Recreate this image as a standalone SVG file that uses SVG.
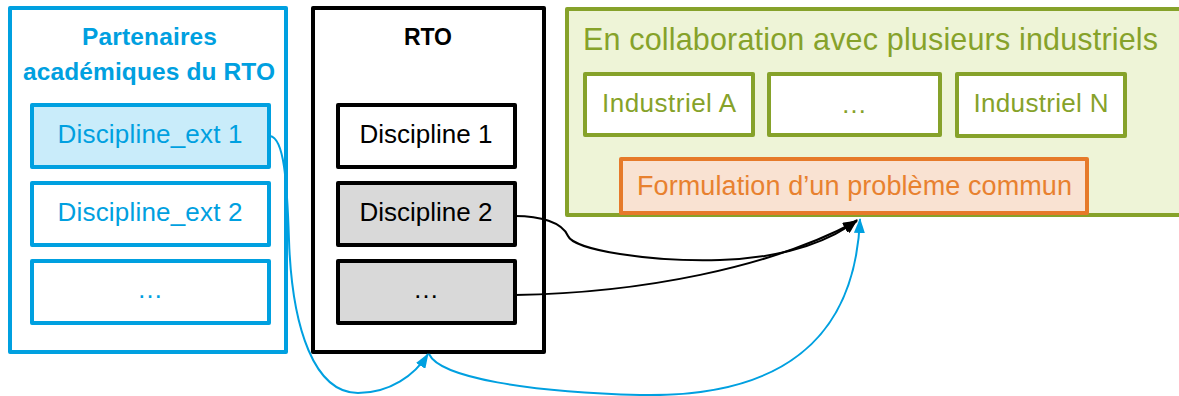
<svg xmlns="http://www.w3.org/2000/svg" width="1179" height="396" viewBox="0 0 1179 396">
<style>
.t{font-family:"Liberation Sans",Arial,sans-serif;text-anchor:middle}
.b{font-weight:bold}
.bl{fill:#00A0E0}
.bk{fill:#000000}
.gr{fill:#86A22A}
.or{fill:#E8812F}
.boxb{fill:#FFFFFF;stroke:#00A0E0;stroke-width:4;stroke-linejoin:round}
.boxk{fill:#FFFFFF;stroke:#000000;stroke-width:4;stroke-linejoin:round}
.boxg{fill:#FFFFFF;stroke:#86A22A;stroke-width:4;stroke-linejoin:round}
.c{fill:none;stroke-width:2}
</style>
<defs>
<marker id="ak" viewBox="0 0 15 11" refX="14" refY="5.5" markerWidth="15" markerHeight="11" markerUnits="userSpaceOnUse" orient="auto">
<path d="M0,0 L15,5.5 L0,11 Z" fill="#000000"/>
</marker>
<marker id="ab" viewBox="0 0 15 11" refX="14" refY="5.5" markerWidth="15" markerHeight="11" markerUnits="userSpaceOnUse" orient="auto">
<path d="M0,0 L15,5.5 L0,11 Z" fill="#00A0E0"/>
</marker>
</defs>

<g id="partenaires">
<rect class="boxb" x="10" y="8" width="276" height="344"/>
<text class="t b bl" x="149.5" y="45" font-size="24.5" textLength="135">Partenaires</text>
<text class="t b bl" x="149" y="80" font-size="24.5" textLength="252">académiques du RTO</text>
</g>
<g id="discipline_ext1">
<rect x="32" y="105" width="237" height="62" fill="#C9ECFA" stroke="#00A0E0" stroke-width="4" stroke-linejoin="round"/>
<text class="t bl" x="150" y="143" font-size="26" textLength="185">Discipline_ext 1</text>
</g>
<g id="discipline_ext2">
<rect class="boxb" x="32" y="183" width="237" height="62"/>
<text class="t bl" x="150" y="221" font-size="26" textLength="185">Discipline_ext 2</text>
</g>
<g id="discipline_ext_more">
<rect class="boxb" x="32" y="261" width="237" height="62"/>
<text class="t bl" x="150" y="298" font-size="26">…</text>
</g>

<g id="rto">
<rect class="boxk" x="313" y="8" width="231" height="344"/>
<text class="t b bk" x="428" y="45" font-size="23" textLength="48">RTO</text>
</g>
<g id="discipline1">
<rect class="boxk" x="338" y="105" width="177" height="62"/>
<text class="t bk" x="426" y="143" font-size="26" textLength="133">Discipline 1</text>
</g>
<g id="discipline2">
<rect x="338" y="183" width="177" height="62" fill="#D9D9D9" stroke="#000000" stroke-width="4" stroke-linejoin="round"/>
<text class="t bk" x="426" y="221" font-size="26" textLength="133">Discipline 2</text>
</g>
<g id="discipline_more">
<rect x="338" y="261" width="177" height="62" fill="#D9D9D9" stroke="#000000" stroke-width="4" stroke-linejoin="round"/>
<text class="t bk" x="426" y="298" font-size="26">…</text>
</g>

<g id="industriels">
<rect x="567" y="9" width="616" height="206" fill="#EEF4D7" stroke="#86A22A" stroke-width="4" stroke-linejoin="round"/>
<text class="gr" x="583" y="50" font-family="Liberation Sans, Arial, sans-serif" font-size="30.5" textLength="575">En collaboration avec plusieurs industriels</text>
</g>
<g id="industrielA">
<rect class="boxg" x="585" y="74" width="168" height="61"/>
<text class="t gr" x="669" y="112" font-size="26" textLength="134">Industriel A</text>
</g>
<g id="industriel_more">
<rect class="boxg" x="769" y="74" width="171" height="61"/>
<text class="t gr" x="854" y="113" font-size="26">…</text>
</g>
<g id="industrielN">
<rect class="boxg" x="957" y="74" width="168" height="62"/>
<text class="t gr" x="1041" y="112" font-size="26" textLength="135">Industriel N</text>
</g>
<g id="formulation">
<rect x="621" y="159" width="466" height="54" fill="#F9E2D2" stroke="#E67A2A" stroke-width="4" stroke-linejoin="round"/>
<text class="t or" x="854.5" y="195" font-size="27" textLength="435">Formulation d’un problème commun</text>
</g>

<g id="connectors">
<path class="c" stroke="#000000" d="M515,216 C540,216 562,222 568,236 C574,250 650,262 720,260 C790,258 835,238 857,220" marker-end="url(#ak)"/>
<path class="c" stroke="#000000" d="M515,295 C640,293 770,268 857,221" marker-end="url(#ak)"/>
<path class="c" stroke="#00A0E0" d="M270,136 C284,138 287,180 289,240 C292,330 315,393 358,393 C390,393 415,375 428,354" marker-end="url(#ab)"/>
<path class="c" stroke="#00A0E0" d="M429,354 C440,378 530,392 640,395 C780,398 855,340 860,219" marker-end="url(#ab)"/>
</g>
</svg>
